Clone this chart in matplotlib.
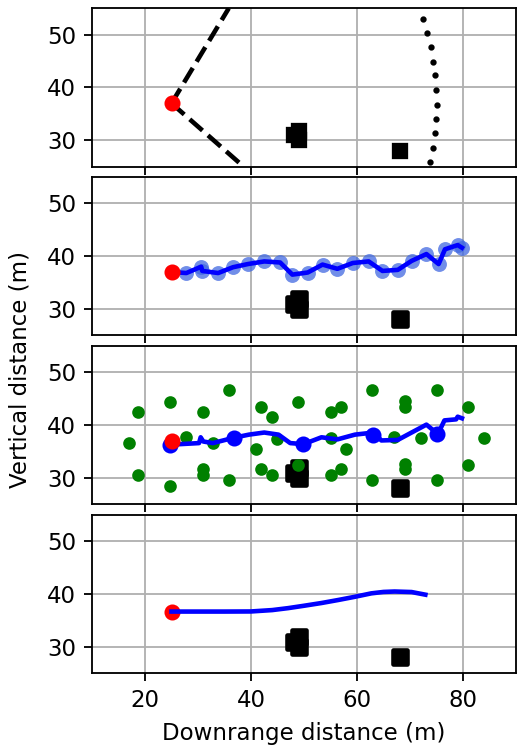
import matplotlib
matplotlib.use("Agg")
import matplotlib.pyplot as plt
from matplotlib.markers import MarkerStyle

# ---------------- data ----------------
start_true = (25.0, 37.0)
start_est4 = (25.0, 36.7)

obstacle_x = [49.1, 49.1, 48.1, 68.1]
obstacle_y = [31.8, 30.0, 31.0, 28.0]

# panel 1: field-of-view edges and dotted arc
fov_upper_x = [25.0, 35.8]
fov_upper_y = [37.0, 55.0]
fov_lower_x = [25.0, 38.6]
fov_lower_y = [37.0, 25.0]
arc_x = [72.4, 73.2, 73.9, 74.3, 74.7, 74.9, 75.0, 74.9, 74.7, 74.3, 73.8]
arc_y = [53.0, 50.3, 47.6, 44.9, 42.3, 39.5, 36.7, 34.0, 31.3, 28.5, 25.9]

# panel 2: measured track
meas_x = [25.0, 27.8, 30.6, 30.8, 33.8, 36.6, 39.4, 42.5, 45.5, 47.8, 50.7,
          53.5, 56.3, 59.2, 62.2, 64.8, 67.7, 70.3, 73.1, 75.4, 76.6, 79.0, 79.8]
meas_y = [37.0, 36.8, 38.0, 37.2, 36.8, 37.9, 38.5, 39.0, 38.8, 36.5, 36.9,
          38.4, 37.6, 38.7, 39.0, 37.2, 37.4, 39.1, 40.4, 38.5, 41.3, 42.1, 41.6]

# panel 3: estimated track, key estimates and particles
est_x = [24.8, 30.2, 30.5, 31.0, 32.8, 36.7, 39.6, 42.5, 45.2, 47.4, 49.9, 53.3,
         56.3, 59.6, 63.1, 64.6, 67.7, 70.3, 73.1, 74.3, 75.3, 76.5, 78.7, 79.0, 79.8]
est_y = [36.3, 36.6, 37.7, 36.9, 36.6, 37.6, 38.2, 38.6, 38.2, 36.6, 36.4, 37.7,
         37.3, 38.2, 38.6, 37.1, 37.2, 38.6, 40.1, 39.1, 38.4, 40.9, 41.1, 41.6, 41.3]
key_x = [24.8, 36.7, 49.9, 63.1, 75.1]
key_y = [36.3, 37.6, 36.4, 38.1, 38.3]
part_x = [18.75, 18.75, 16.9, 24.8, 24.8, 27.8, 30.9, 30.9, 30.9, 32.8, 35.9, 35.9,
          41.9, 41.9, 41.0, 43.9, 43.9, 44.9, 48.8, 48.8, 55.0, 55.0, 55.0, 57.0,
          57.0, 57.9, 62.9, 62.9, 67.0, 69.0, 69.0, 69.0, 69.0, 72.1, 75.0, 75.0,
          81.0, 81.0, 84.0]
part_y = [42.5, 30.5, 36.6, 44.4, 28.4, 37.7, 42.5, 31.6, 30.6, 36.6, 46.6, 29.6,
          43.5, 31.6, 35.4, 41.6, 30.5, 37.4, 44.4, 32.5, 42.5, 37.5, 30.5, 43.5,
          31.6, 35.4, 46.6, 29.6, 37.7, 44.6, 43.5, 32.7, 31.6, 37.5, 46.6, 29.6,
          43.5, 32.5, 37.5]

# panel 4: smoothed path
smooth_x = [25.0, 30.0, 35.0, 40.0, 44.0, 47.0, 50.0, 53.3, 56.5, 59.6, 62.7,
            65.0, 67.1, 70.3, 72.9]
smooth_y = [36.7, 36.7, 36.7, 36.72, 36.98, 37.35, 37.8, 38.32, 38.9, 39.5, 40.15,
            40.42, 40.5, 40.4, 39.9]

xticks = [20, 40, 60, 80]
yticks = [30, 40, 50]

# ---------------- figure ----------------
W, H, DPI = 517, 753, 165
fig = plt.figure(figsize=(W / DPI, H / DPI), dpi=DPI)

left = 92 / W
width = (516 - 92) / W
tops = [8.3, 177, 346, 515]
hgt = 158.3
axes = []
for i, t in enumerate(tops):
    ax = fig.add_axes([left, 1 - (t + hgt) / H, width, hgt / H],
                      sharex=axes[0] if axes else None)
    axes.append(ax)

for i, ax in enumerate(axes):
    ax.set_xlim(10, 90)
    ax.set_ylim(25, 55)
    ax.set_xticks(xticks)
    ax.set_yticks(yticks)
    ax.grid(True)
    ax.set_axisbelow(True)
    if i < 3:
        ax.tick_params(labelbottom=False)

sq_round = MarkerStyle('s', joinstyle='round')

# panel 1
ax = axes[0]
ax.plot(fov_upper_x, fov_upper_y, 'k--', lw=2)
ax.plot(fov_lower_x, fov_lower_y, 'k--', lw=2)
ax.plot(arc_x, arc_y, 'k.', ms=3.5)
ax.plot(obstacle_x, obstacle_y, 'ks', ms=6, ls='none')
ax.plot(*start_true, 'ro', ms=6)

# panel 2
ax = axes[1]
ax.plot(obstacle_x, obstacle_y, ls='none', marker=sq_round, color='k', ms=6, mew=2)
ax.plot(meas_x, meas_y, 'o', color='royalblue', alpha=0.75, ms=6.5, mec='none')
ax.plot(meas_x, meas_y, '-', color='blue', lw=2)
ax.plot(*start_true, 'ro', ms=6)

# panel 3
ax = axes[2]
ax.plot(obstacle_x, obstacle_y, ls='none', marker=sq_round, color='k', ms=6, mew=2)
ax.plot(part_x, part_y, 'o', color='green', ms=4.5, ls='none')
ax.plot(est_x, est_y, '-', color='blue', lw=2)
ax.plot(key_x, key_y, 'o', color='blue', ms=6, ls='none')
ax.plot(*start_true, 'ro', ms=6)

# panel 4
ax = axes[3]
ax.plot(obstacle_x, obstacle_y, ls='none', marker=sq_round, color='k', ms=6, mew=2)
ax.plot(*start_est4, 'ro', ms=6)
ax.plot(smooth_x, smooth_y, '-', color='blue', lw=2)
ax.set_xlabel('Downrange distance (m)')

fig.text(20 / W, 1 - 370 / H, 'Vertical distance (m)', rotation=90,
         ha='center', va='center', fontsize=10)

fig.savefig('out.png', dpi=DPI)
